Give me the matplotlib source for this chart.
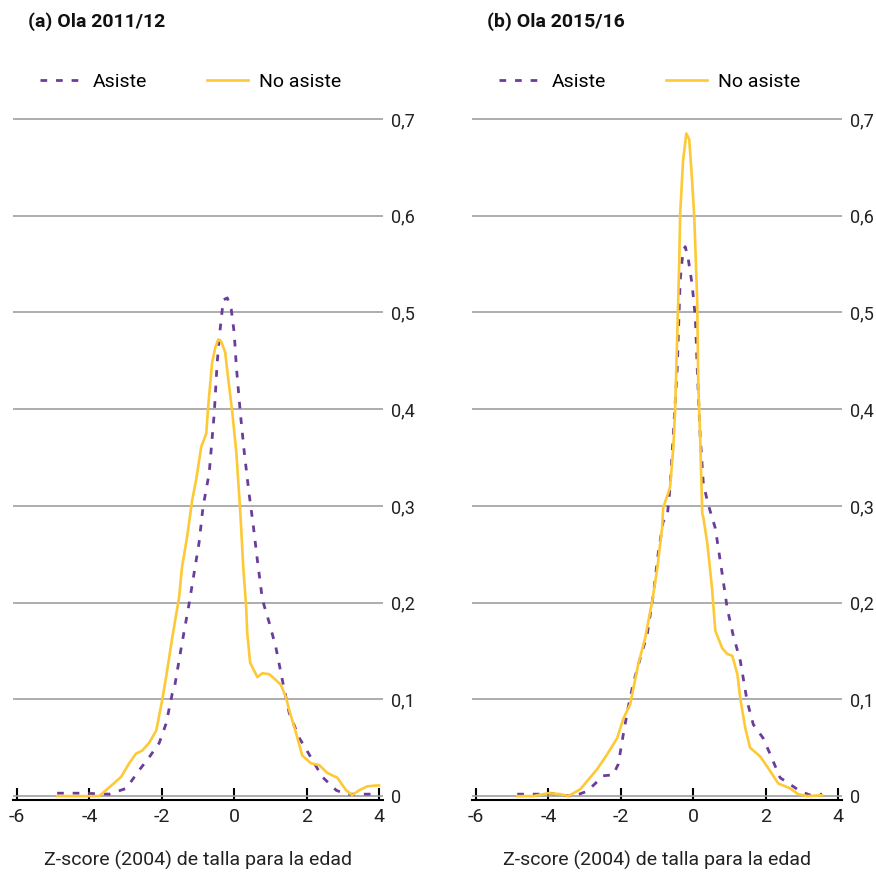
import matplotlib
matplotlib.use('Agg')
import matplotlib.pyplot as plt

# ---- data (kernel densities of height-for-age z-score)
panel_titles = ['(a) Ola 2011/12', '(b) Ola 2015/16']
series_names = ['Asiste', 'No asiste']

a_asiste_x = [-4.89, -4.2, -3.45, -2.98, -2.62, -2.35, -2.07, -1.88, -1.71, -1.66, -1.46,
              -1.24, -0.97, -0.86, -0.69, -0.55, -0.47, -0.39, -0.30, -0.19, -0.08, 0.0,
              0.06, 0.17, 0.28, 0.41, 0.52, 0.64, 0.78, 0.97, 1.15, 1.33, 1.52, 1.80,
              2.12, 2.43, 2.82, 3.09, 3.5, 4.0]
a_asiste_y = [0.003, 0.003, 0.002, 0.008, 0.027, 0.040, 0.055, 0.075, 0.106, 0.110, 0.154,
              0.200, 0.262, 0.299, 0.334, 0.396, 0.448, 0.482, 0.513, 0.515, 0.503, 0.479,
              0.444, 0.396, 0.355, 0.313, 0.282, 0.244, 0.203, 0.179, 0.154, 0.120, 0.086,
              0.060, 0.040, 0.020, 0.006, 0.002, 0.002, 0.002]

a_noasiste_x = [-4.89, -4.3, -3.73, -3.45, -3.12, -2.90, -2.71, -2.54, -2.35, -2.15, -1.99,
                -1.88, -1.71, -1.52, -1.44, -1.30, -1.16, -1.05, -0.91, -0.77, -0.72, -0.61,
                -0.52, -0.44, -0.36, -0.25, -0.16, -0.05, 0.06, 0.17, 0.25, 0.33, 0.36,
                0.44, 0.64, 0.78, 0.97, 1.15, 1.29, 1.43, 1.52, 1.71, 1.88, 2.12, 2.35,
                2.57, 2.85, 3.09, 3.26, 3.45, 3.67, 3.92, 4.0]
a_noasiste_y = [0.0, 0.0, 0.0, 0.009, 0.020, 0.034, 0.044, 0.047, 0.055, 0.068, 0.099,
                0.123, 0.164, 0.206, 0.237, 0.268, 0.306, 0.327, 0.361, 0.375, 0.402, 0.448,
                0.464, 0.472, 0.470, 0.459, 0.430, 0.396, 0.355, 0.293, 0.237, 0.196, 0.169,
                0.138, 0.123, 0.127, 0.126, 0.120, 0.115, 0.102, 0.089, 0.065, 0.042, 0.034,
                0.032, 0.024, 0.019, 0.006, 0.001, 0.006, 0.010, 0.011, 0.011]

b_asiste_x = [-4.86, -4.22, -3.95, -3.67, -3.30, -2.93, -2.65, -2.49, -2.21, -2.07, -1.93,
              -1.80, -1.66, -1.46, -1.27, -1.10, -0.97, -0.83, -0.72, -0.64, -0.55, -0.44,
              -0.36, -0.28, -0.22, -0.14, -0.03, 0.06, 0.11, 0.19, 0.28, 0.41, 0.61, 0.80,
              0.94, 1.10, 1.30, 1.49, 1.66, 1.93, 2.13, 2.40, 2.68, 2.96, 3.23, 3.56]
b_asiste_y = [0.002, 0.002, 0.003, 0.001, 0.0, 0.005, 0.015, 0.021, 0.022, 0.033, 0.064,
              0.091, 0.116, 0.143, 0.167, 0.209, 0.250, 0.284, 0.288, 0.319, 0.374, 0.443,
              0.533, 0.564, 0.568, 0.556, 0.529, 0.494, 0.443, 0.374, 0.323, 0.302, 0.277,
              0.230, 0.194, 0.167, 0.140, 0.098, 0.074, 0.060, 0.043, 0.019, 0.012, 0.005,
              0.001, 0.002]

b_noasiste_x = [-4.86, -4.42, -4.0, -3.67, -3.45, -3.12, -2.65, -2.38, -2.10, -1.93, -1.74,
                -1.52, -1.33, -1.13, -0.99, -0.86, -0.83, -0.64, -0.55, -0.50, -0.44, -0.39,
                -0.36, -0.28, -0.19, -0.11, -0.03, 0.03, 0.11, 0.14, 0.19, 0.25, 0.28, 0.39,
                0.52, 0.61, 0.80, 0.94, 1.08, 1.22, 1.30, 1.44, 1.57, 1.85, 2.07, 2.35,
                2.68, 2.90, 3.15, 3.56]
b_noasiste_y = [0.0, 0.0, 0.003, 0.002, 0.0, 0.007, 0.028, 0.043, 0.060, 0.080, 0.095,
                0.136, 0.163, 0.202, 0.236, 0.277, 0.298, 0.319, 0.360, 0.398, 0.478, 0.546,
                0.602, 0.657, 0.685, 0.679, 0.636, 0.598, 0.512, 0.426, 0.374, 0.292, 0.288,
                0.261, 0.215, 0.171, 0.153, 0.147, 0.145, 0.126, 0.101, 0.070, 0.050, 0.041,
                0.029, 0.013, 0.008, 0.002, 0.0, 0.001]

x_ticks = [-6, -4, -2, 0, 2, 4]
y_ticks = [0, 0.1, 0.2, 0.3, 0.4, 0.5, 0.6, 0.7]
y_ticklabels = ['0', '0,1', '0,2', '0,3', '0,4', '0,5', '0,6', '0,7']
x_label = 'Z-score (2004) de talla para la edad'

PURPLE = '#6a3d9a'
YELLOW = '#fdc936'

plt.rcParams['font.family'] = ['Roboto', 'DejaVu Sans']

fig = plt.figure(figsize=(8.76, 8.72), dpi=100)

panels = [
    (0.0148, a_asiste_x, a_asiste_y, a_noasiste_x, a_noasiste_y),
    (0.5388, b_asiste_x, b_asiste_y, b_noasiste_x, b_noasiste_y),
]

for i, (left, ax_, ay_, nx_, ny_) in enumerate(panels):
    ax = fig.add_axes([left, 0.0826, 0.4224, 0.7832])
    ax.plot(ax_, ay_, color=PURPLE, lw=2.0, linestyle=(0, (2.4, 3.2)), label=series_names[0])
    ax.plot(nx_, ny_, color=YELLOW, lw=1.9, label=series_names[1])

    ax.set_xlim(-6.11, 4.11)
    ax.set_ylim(-0.004, 0.702)
    ax.set_xticks(x_ticks)
    ax.set_xticklabels([str(t) for t in x_ticks], fontsize=14, color='#222222')
    ax.set_yticks(y_ticks)
    ax.set_yticklabels(y_ticklabels, fontsize=13, color='#222222')
    ax.yaxis.tick_right()
    ax.tick_params(axis='y', length=0, pad=6)
    ax.tick_params(axis='x', direction='in', length=9, width=1.5, pad=6)
    ax.grid(axis='y', color='#a0a0a0', lw=1.2)
    ax.set_axisbelow(True)
    for s in ['top', 'left', 'right']:
        ax.spines[s].set_visible(False)
    ax.spines['bottom'].set_linewidth(1.5)
    ax.set_xlabel(x_label, fontsize=14, color='#222222', labelpad=18)

    ax.text(0.04, 1.14, panel_titles[i], transform=ax.transAxes, fontsize=14,
            fontweight='bold', va='center', ha='left', color='#111111')
    ax.legend(loc='center left', bbox_to_anchor=(0.062, 1.052), ncol=2, frameon=False,
              fontsize=14, handlelength=2.1, handletextpad=0.6, columnspacing=3.1,
              borderaxespad=0, borderpad=0.2)

fig.savefig('out.png', dpi=100)
